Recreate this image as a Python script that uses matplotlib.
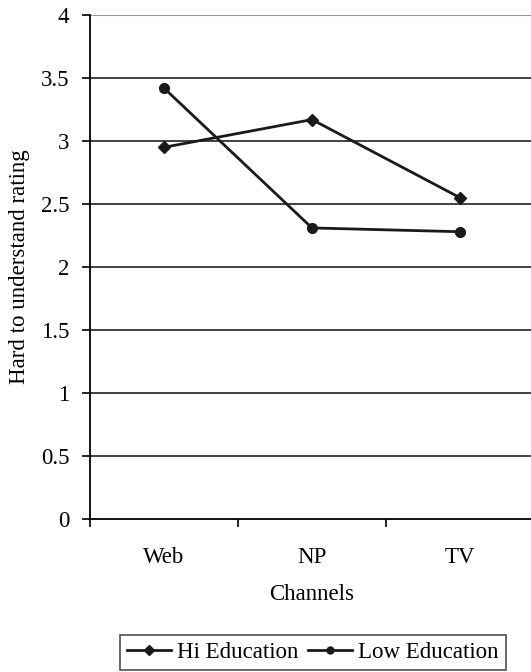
import matplotlib.pyplot as plt
import numpy as np

channels = ['Web', 'NP', 'TV']
hi_education = [2.95, 3.17, 2.55]
low_education = [3.42, 2.31, 2.28]

plt.rcParams['font.family'] = ['Liberation Serif', 'DejaVu Serif']
fs = 16.5

fig = plt.figure(figsize=(5.31, 6.72), dpi=100, facecolor='white')
ax = fig.add_axes([90 / 531, 1 - 519 / 672, 444 / 531, 504 / 672])

x = np.arange(len(channels))
ax.plot(x, hi_education, 'D-', color='#1a1a1a', linewidth=2, markersize=6,
        label='Hi Education')
ax.plot(x, low_education, 'o-', color='#1a1a1a', linewidth=2, markersize=7,
        label='Low Education')

ax.set_xlim(-0.5, 2.5)
ax.set_ylim(0, 4)
ax.set_yticks(np.arange(0, 4.01, 0.5))
ax.set_yticklabels(['0', '0.5', '1', '1.5', '2', '2.5', '3', '3.5', '4'])
ax.set_xticks(x)
ax.set_xticklabels(channels)
ax.set_xticks([-0.5, 0.5, 1.5, 2.5], minor=True)
ax.tick_params(axis='x', which='major', length=0, pad=20, labelsize=fs)
ax.tick_params(axis='x', which='minor', length=6, width=1.2)
ax.tick_params(axis='y', length=6, width=1.2, labelsize=fs, pad=9)

for v in np.arange(0.5, 4.0, 0.5):
    ax.axhline(v, color='#333333', linewidth=1.3, zorder=0)
ax.axhline(4, color='#999999', linewidth=1.5, zorder=0)

for s in ['top', 'right']:
    ax.spines[s].set_visible(False)
ax.spines['left'].set_linewidth(1.3)
ax.spines['bottom'].set_linewidth(1.3)

ax.set_xlabel('Channels', fontsize=fs, labelpad=12)
ax.set_ylabel('Hard to understand rating', fontsize=fs, labelpad=8)

leg = fig.legend(loc='upper center', bbox_to_anchor=(313 / 531, 1 - 635 / 672), ncol=2,
                 fontsize=fs, frameon=True, fancybox=False, edgecolor='#222222',
                 handlelength=1.9, handletextpad=0.3, columnspacing=0.4,
                 borderpad=0.3, borderaxespad=0)
leg.get_frame().set_linewidth(1.2)
for h in leg.legend_handles:
    h.set_markersize(5)

fig.savefig('out.png', dpi=100, facecolor='white')
